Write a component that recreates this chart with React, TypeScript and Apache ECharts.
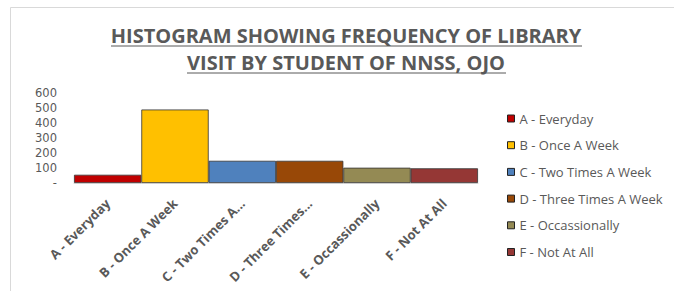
import React, { useEffect, useRef } from "react";
import * as echarts from "echarts";

const categories = [
  "A - Everyday",
  "B - Once A Week",
  "C - Two Times A Week",
  "D - Three Times A Week",
  "E - Occassionally",
  "F - Not At All",
];
const axisLabels = [
  "A - Everyday",
  "B - Once A Week",
  "C - Two Times A...",
  "D - Three Times...",
  "E - Occassionally",
  "F - Not At All",
];
const frequencies = [55, 490, 148, 148, 102, 98];
const colors = ["#C00000", "#FFC000", "#4F81BD", "#984807", "#948A54", "#953735"];
const yTicks = [0, 100, 200, 300, 400, 500, 600];
const titleLines = [
  "HISTOGRAM SHOWING FREQUENCY OF LIBRARY",
  "VISIT BY STUDENT OF NNSS, OJO",
];

export default function App() {
  const ref = useRef<HTMLDivElement>(null);
  useEffect(() => {
    document.body.style.margin = "0";
    const chart = echarts.init(ref.current!, null, { renderer: "svg" });
    const font = "'Open Sans', sans-serif";
    const series = categories.map((name, i) => ({
      name,
      type: "bar",
      stack: "all",
      barCategoryGap: 0,
      data: frequencies.map((v, j) => (j === i ? v : null)),
      itemStyle: { color: colors[i], borderColor: "#333", borderWidth: 0.8 },
    }));
    chart.setOption({
      animation: false,
      textStyle: { fontFamily: font },
      graphic: [
        {
          type: "rect",
          shape: { x: 10.5, y: 7.5, width: 700, height: 320 },
          style: { fill: "none", stroke: "#d9d9d9", lineWidth: 1 },
          silent: true,
        },
        {
          type: "text",
          x: 346,
          y: 35,
          style: {
            text: titleLines[0],
            font: `bold 20px ${font}`,
            fill: "#595959",
            align: "center",
            verticalAlign: "middle",
          },
        },
        {
          type: "text",
          x: 346,
          y: 62,
          style: {
            text: titleLines[1],
            font: `bold 20px ${font}`,
            fill: "#595959",
            align: "center",
            verticalAlign: "middle",
          },
        },
        {
          type: "line",
          shape: { x1: 111, y1: 46, x2: 582, y2: 46 },
          style: { stroke: "#595959", lineWidth: 1 },
        },
        {
          type: "line",
          shape: { x1: 187, y1: 73, x2: 506, y2: 73 },
          style: { stroke: "#595959", lineWidth: 1 },
        },
      ],
      legend: {
        orient: "vertical",
        left: 502,
        top: 107,
        itemWidth: 7,
        itemHeight: 7,
        itemGap: 13.7,
        icon: "rect",
        textStyle: { color: "#595959", fontSize: 13, fontFamily: font, padding: [0, 0, 0, 0] },
        itemStyle: { borderColor: "#222", borderWidth: 1 },
        data: categories,
      },
      grid: { left: 74, right: 196, top: 93, bottom: 108, containLabel: false },
      xAxis: {
        type: "category",
        data: categories,
        axisLine: { show: true, lineStyle: { color: "#d9d9d9" } },
        axisTick: { show: false },
        axisLabel: {
          interval: 0,
          rotate: 45,
          color: "#595959",
          fontSize: 13,
          fontWeight: "bold",
          fontFamily: font,
          margin: 18,
          formatter: (_v: string, i: number) => axisLabels[i],
        },
      },
      yAxis: {
        type: "value",
        min: yTicks[0],
        max: yTicks[yTicks.length - 1],
        interval: 100,
        axisLine: { show: false },
        axisTick: { show: false },
        splitLine: { show: false },
        axisLabel: {
          color: "#595959",
          fontSize: 11.5,
          lineHeight: 12,
          fontFamily: "'DejaVu Sans', sans-serif",
          margin: 17,
          formatter: (v: number) => (v === 0 ? "-" : String(v)),
        },
      },
      series,
    });
    return () => chart.dispose();
  }, []);
  return <div ref={ref} style={{ width: 674, height: 291 }} />;
}
